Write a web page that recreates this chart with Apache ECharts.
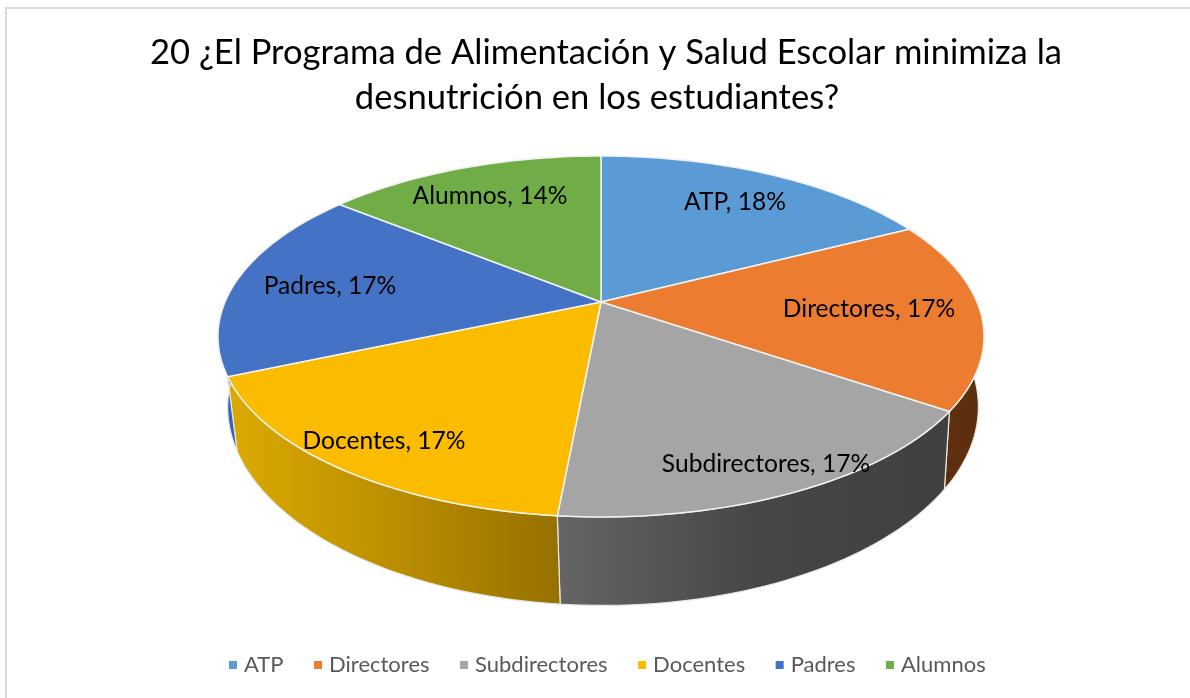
<!DOCTYPE html>
<html>
<head>
<meta charset="utf-8">
<title>Programa de Alimentación</title>
<script src="https://cdn.jsdelivr.net/npm/echarts@6/dist/echarts.min.js"></script>
<style>
  html, body { margin: 0; padding: 0; background: #fff; }
  #chart { width: 1190px; height: 698px; }
</style>
</head>
<body>
<div id="chart"></div>
<script>
var titleLines = ["20 ¿El Programa de Alimentación y Salud Escolar minimiza la", "desnutrición en los estudiantes?"];
var categories = ["ATP", "Directores", "Subdirectores", "Docentes", "Padres", "Alumnos"];
var shares = [17.5, 17.0, 17.0, 17.0, 17.3, 14.2];

var colors = ["#5B9BD5", "#EC7C30", "#A5A5A5", "#FBBC00", "#4472C4", "#70AD47"];
// side wall shading, left / middle / right
var wallStops = [
  ["#5B9BD5", "#5B9BD5", "#5B9BD5"],
  ["#633210", "#5f3010", "#5c2f0f"],
  ["#656565", "#474747", "#404040"],
  ["#dcaa00", "#bb8e00", "#967100"],
  ["#3a67b5", "#3560a8", "#2f5597"],
  ["#70AD47", "#70AD47", "#70AD47"]
];
// where the labels sit on the slices
var labelSpots = [[735, 202], [869, 309], [766, 464], [384, 441], [330, 286], [490, 196]];

// tilted disc: circle -> screen, with a bit of perspective
var cx = 601, cy = 302, rx = 376, ry = 173.9, persp = -0.191;
function topPoint(deg, r) {
  var a = deg * Math.PI / 180;
  var u = Math.sin(a) * r, v = -Math.cos(a) * r;
  var w = 1 + persp * v;
  return [cx + rx * u / w, cy + ry * v / w];
}
function bottomPoint(deg) {
  var p = topPoint(deg, 1);
  return [cx + 2 + (p[0] - cx) * 0.98, 369 + (p[1] - cy) * 1.1];
}

var total = shares.reduce(function (a, b) { return a + b; }, 0);
var running = 0;
var spans = shares.map(function (s) {
  var from = running / total * 360;
  running += s;
  return [from, running / total * 360];
});

function arcPoints(from, to, fn) {
  var pts = [];
  var n = Math.ceil((to - from) / 1.5);
  for (var i = 0; i <= n; i++) pts.push(fn(from + (to - from) * i / n));
  return pts;
}

function renderWall(params, api) {
  var i = params.dataIndex;
  var from = api.value(0), to = api.value(1);
  var upper = arcPoints(from, to, function (d) { return topPoint(d, 1); });
  var lower = arcPoints(from, to, bottomPoint);
  var pts = upper.concat(lower.reverse());
  var xs = pts.map(function (p) { return p[0]; });
  return {
    type: "polygon",
    shape: { points: pts },
    style: {
      fill: new echarts.graphic.LinearGradient(Math.min.apply(null, xs), 0, Math.max.apply(null, xs), 0, [
        { offset: 0, color: wallStops[i][0] },
        { offset: 0.5, color: wallStops[i][1] },
        { offset: 1, color: wallStops[i][2] }
      ], true),
      stroke: "#e8e8e8",
      lineWidth: 1.2
    }
  };
}

function makeFace(i) {
  return function (params, api) {
    var from = api.value(0), to = api.value(1);
    var pts = [[cx, cy]].concat(arcPoints(from, to, function (d) { return topPoint(d, 1); }));
    return {
      type: "group",
      children: [
        {
          type: "polygon",
          shape: { points: pts },
          style: { fill: colors[i], stroke: "#f2f2f2", lineWidth: 1.5 }
        },
        {
          type: "text",
          z2: 50,
          style: {
            x: labelSpots[i][0],
            y: labelSpots[i][1],
            text: categories[i] + ", " + Math.round(api.value(2)) + "%",
            fill: "#000",
            font: "24.6px Lato",
            align: "center",
            verticalAlign: "middle"
          }
        }
      ]
    };
  };
}

var series = [{
  type: "custom",
  name: "lateral",
  coordinateSystem: "none",
  z: 1,
  silent: true,
  renderItem: renderWall,
  data: spans
}];
categories.forEach(function (name, i) {
  series.push({
    type: "custom",
    name: name,
    coordinateSystem: "none",
    z: 2,
    silent: true,
    itemStyle: { color: colors[i] },
    renderItem: makeFace(i),
    data: [[spans[i][0], spans[i][1], shares[i]]]
  });
});

var titleStyle = { fontFamily: "Lato", fontSize: 34.6, fontWeight: "normal", color: "#000" };

var chart = echarts.init(document.getElementById("chart"));
chart.setOption({
  animation: false,
  backgroundColor: "#fff",
  title: [
    { text: titleLines[0], left: 601, top: 30, textAlign: "center", textStyle: titleStyle },
    { text: titleLines[1], left: 592, top: 75, textAlign: "center", textStyle: titleStyle }
  ],
  legend: {
    data: categories,
    left: 224,
    top: 649,
    icon: "rect",
    itemWidth: 8,
    itemHeight: 8,
    itemGap: 30.5,
    selectedMode: false,
    textStyle: { fontFamily: "Lato", fontSize: 22, color: "#595959", padding: [0, 0, 0, 2] }
  },
  graphic: [
    {
      type: "polyline",
      silent: true,
      shape: { points: [[6, 698], [6, 8], [1190, 8]] },
      style: { stroke: "#d9d9d9", lineWidth: 2, fill: null }
    }
  ],
  series: series
});
</script>
</body>
</html>
